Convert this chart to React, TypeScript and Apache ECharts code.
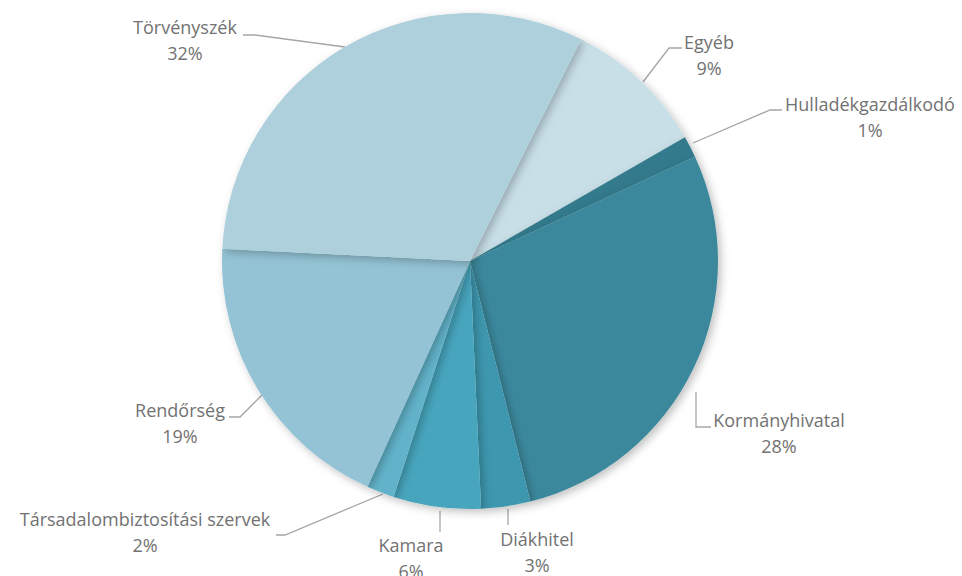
import React, { useEffect, useRef } from "react";
import * as echarts from "echarts";

const categories = [
  "Egyéb",
  "Hulladékgazdálkodó",
  "Kormányhivatal",
  "Diákhitel",
  "Kamara",
  "Társadalombiztosítási szervek",
  "Rendőrség",
  "Törvényszék",
];
const shares = [9.3, 1.4, 28.0, 3.2, 5.7, 1.8, 19.0, 31.6];
const colors = ["#C8DFE7", "#337A8C", "#3B889C", "#3E97AE", "#47A6BE", "#62B3CA", "#93C3D4", "#ADD0DC"];

// label anchor positions (layout only)
const labelPos: [number, number][] = [
  [709, 55],
  [870, 117],
  [779, 433],
  [537, 552],
  [411, 558],
  [145, 532],
  [180, 423],
  [185, 40],
];
const linePts: [number, number][][] = [
  [[643, 82], [669, 48], [682, 48]],
  [[693, 143], [770, 110], [782, 110]],
  [[696, 392], [696, 427], [711, 427]],
  [[508, 509], [508, 517], [508, 525]],
  [[440, 511], [440, 522], [440, 532]],
  [[383, 494], [285, 535], [276, 535]],
  [[262, 395], [240, 417], [229, 417]],
  [[345, 47], [255, 35], [243, 35]],
];

export default function App() {
  const ref = useRef<HTMLDivElement>(null);
  useEffect(() => {
    document.body.style.margin = "0";
    const chart = echarts.init(ref.current!, null, { renderer: "svg" });
    chart.setOption({
      animation: false,
      backgroundColor: "#ffffff",
      series: [
        {
          type: "pie",
          center: [470, 261],
          radius: 248,
          startAngle: 63.4,
          clockwise: true,
          avoidLabelOverlap: false,
          data: categories.map((c, i) => ({
            name: c,
            value: shares[i],
            itemStyle: { color: colors[i] },
          })),
          itemStyle: {
            shadowBlur: 8,
            shadowOffsetX: 3,
            shadowOffsetY: 3,
            shadowColor: "rgba(0,0,0,0.25)",
          },
          label: {
            show: true,
            formatter: (p: any) => `${p.name}\n${Math.round(p.percent)}%`,
            color: "#727272",
            fontFamily: "Open Sans",
            fontSize: 18,
            lineHeight: 26,
            align: "center",
          },
          labelLine: {
            show: true,
            lineStyle: { color: "#A6A6A6", width: 1.3 },
          },
          labelLayout: (params: any) => {
            const i = params.dataIndex;
            return {
              x: labelPos[i][0],
              y: labelPos[i][1],
              align: "center",
              verticalAlign: "middle",
              labelLinePoints: linePts[i],
            };
          },
        },
      ],
    });
    return () => chart.dispose();
  }, []);
  return <div ref={ref} style={{ position: "absolute", left: 0, top: 0, width: 962, height: 576 }} />;
}
